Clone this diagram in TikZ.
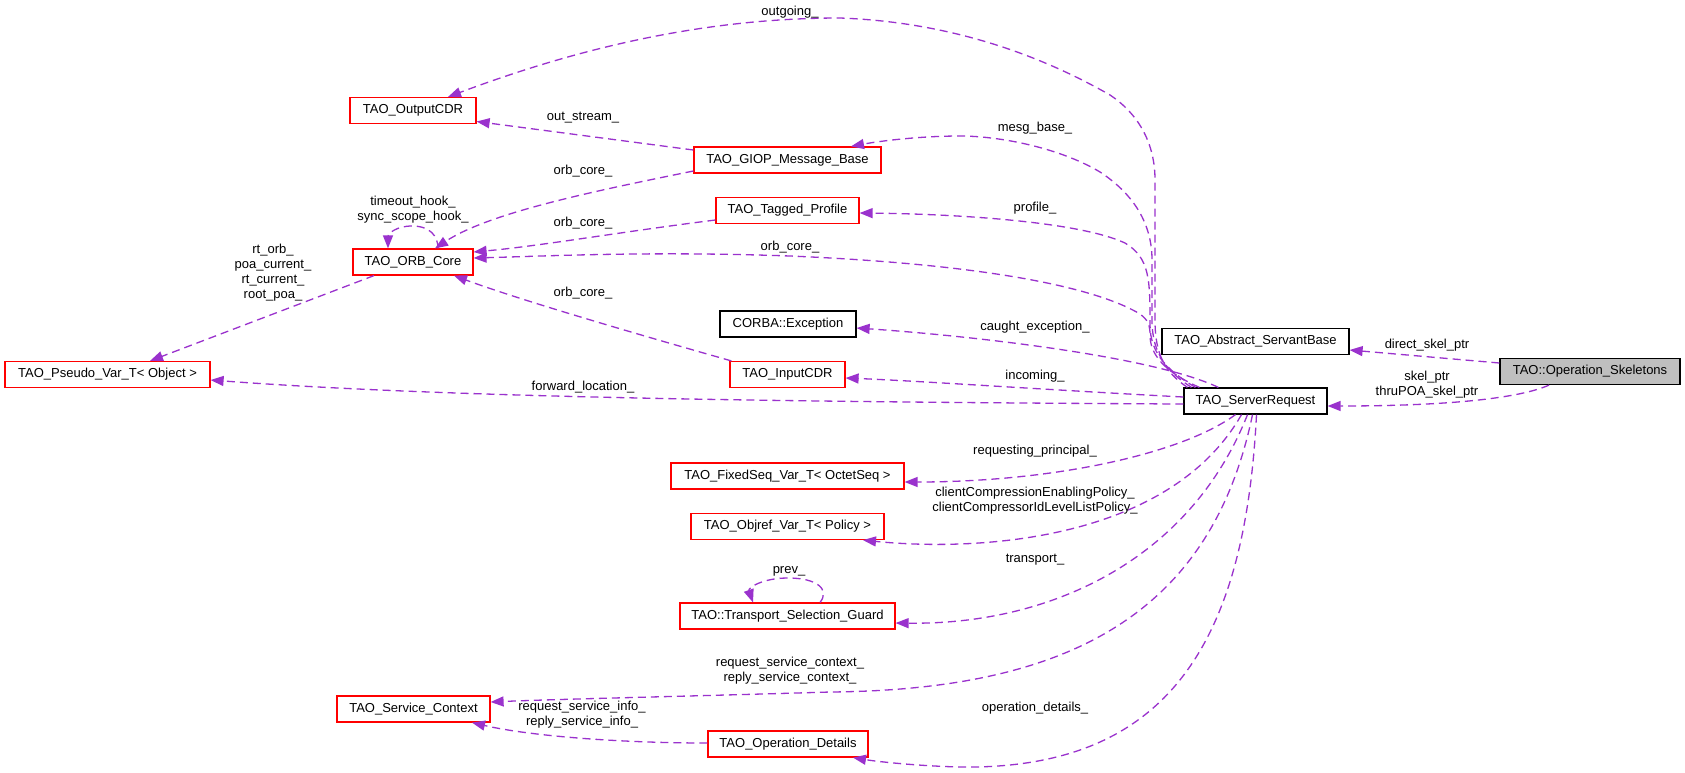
\documentclass[tikz,border=0pt]{standalone}
\usepackage{fontspec}
\setmainfont{Liberation Sans}
\usetikzlibrary{arrows.meta,calc}
\definecolor{edgec}{HTML}{9A32CD}
\definecolor{boxgray}{HTML}{BFBFBF}
\tikzset{
  cls/.style={draw=red, line width=1.2pt, rectangle, minimum height=26pt, inner sep=0pt, fill=white, font=\fontsize{13}{15}\selectfont},
  clsblack/.style={cls, draw=black},
  clsgray/.style={cls, draw=black, fill=boxgray},
  rel/.style={draw=edgec, line width=1.3pt, dash pattern=on 8pt off 5pt, -{Triangle[length=13pt,width=10pt,fill=edgec]}},
  lbl/.style={font=\fontsize{13}{15}\selectfont, align=center, inner sep=0pt}
}
\begin{document}
\begin{tikzpicture}[x=1pt,y=-1pt]
\useasboundingbox[fill=white] (0,0) rectangle (1685,772);
% nodes
\node[cls, minimum width=126pt] (out) at (413,110.5) {TAO\_OutputCDR};
\node[cls, minimum width=120pt] (orb) at (413,262) {TAO\_ORB\_Core};
\node[cls, minimum width=205pt] (ps) at (107.5,374.5) {TAO\_Pseudo\_Var\_T< Object >};
\node[cls, minimum width=187pt] (giop) at (787.5,160) {TAO\_GIOP\_Message\_Base};
\node[cls, minimum width=143pt] (tag) at (787.5,210.5) {TAO\_Tagged\_Profile};
\node[clsblack, minimum width=136pt] (exc) at (788,324) {CORBA::Exception};
\node[cls, minimum width=115pt] (in) at (787.5,374.5) {TAO\_InputCDR};
\node[clsblack, minimum width=187pt] (abs) at (1255.5,341.5) {TAO\_Abstract\_ServantBase};
\node[clsgray, minimum width=180pt] (sk) at (1590,371.5) {TAO::Operation\_Skeletons};
\node[clsblack, minimum width=143pt] (SR) at (1255.5,401) {TAO\_ServerRequest};
\node[cls, minimum width=233pt] (fs) at (787.5,476) {TAO\_FixedSeq\_Var\_T< OctetSeq >};
\node[cls, minimum width=193pt] (obj) at (787.5,526.5) {TAO\_Objref\_Var\_T< Policy >};
\node[cls, minimum width=215pt] (g) at (787.5,616) {TAO::Transport\_Selection\_Guard};
\node[cls, minimum width=153pt] (sc) at (413.5,709) {TAO\_Service\_Context};
\node[cls, minimum width=160pt] (od) at (788,744) {TAO\_Operation\_Details};
% edges
\draw[rel] ($(SR.north west)+(4,0)$) .. controls (1165,372) and (1155,355) .. (1155,320) -- (1155,180) .. controls (1155,145) and (1140,115) .. (1110,95) .. controls (1040,55) and (950,22) .. (840,18) .. controls (690,18) and (560,55) .. ($(out.north)+(35,0)$);
\draw[rel] ($(SR.north west)+(8,0)$) .. controls (1168,372) and (1152,355) .. (1152,320) -- (1152,260) .. controls (1152,225) and (1135,195) .. (1100,172) .. controls (1060,148) and (1000,136) .. (960,136) .. controls (920,136) and (880,141) .. ($(giop.north)+(63.5,0)$);
\draw[rel] ($(SR.north west)+(12,0)$) .. controls (1170,372) and (1150,355) .. (1150,325) .. controls (1150,280) and (1150,258) .. (1125,243) .. controls (1080,222) and (960,214) .. ($(tag.east)+(0,2.5)$);
\draw[rel] ($(SR.north west)+(16,0)$) .. controls (1165,372) and (1150,355) .. (1150,335) .. controls (1150,325) and (1148,320) .. (1140,314) .. controls (1100,290) and (1000,265) .. (790,256) .. controls (650,251) and (550,256) .. ($(orb.east)+(0,-4)$);
\draw[rel] ($(SR.north west)+(35,0)$) .. controls (1150,355) and (960,335) .. ($(exc.east)+(0,4)$);
\draw[rel] ($(SR.west)+(0,-4)$) .. controls (1050,390) and (920,381) .. ($(in.east)+(0,3.5)$);
\draw[rel] ($(SR.west)+(0,3)$) .. controls (800,402) and (450,398) .. ($(ps.east)+(0,5.5)$);
\draw[rel] ($(sk.west)+(0,-8.5)$) -- ($(abs.east)+(0,8.5)$);
\draw[rel] ($(sk.south)+(-41,0)$) .. controls (1520,398) and (1450,406) .. ($(SR.east)+(0,5)$);
\draw[rel] ($(orb.north)+(25,0)$) .. controls (438,236) and (430,226) .. (412,226) .. controls (396,226) and (388,234) .. ($(orb.north)+(-25,0)$);
\draw[rel] ($(orb.south)+(-39,0)$) -- ($(ps.north)+(42.5,0)$);
\draw[rel] ($(giop.west)+(0,-10)$) -- ($(out.east)+(0,11)$);
\draw[rel] ($(giop.west)+(0,11)$) .. controls (600,190) and (490,212) .. ($(orb.north)+(22,0)$);
\draw[rel] ($(tag.west)+(0,9.5)$) .. controls (620,232) and (540,246) .. ($(orb.east)+(0,-10)$);
\draw[rel] ($(in.north west)+(2,0)$) .. controls (640,335) and (520,300) .. ($(orb.south)+(41,0)$);
\draw[rel] ($(SR.south)+(-20,0)$) .. controls (1180,455) and (1050,482) .. ($(fs.east)+(0,6)$);
\draw[rel] ($(SR.south)+(-14,0)$) .. controls (1170,540) and (980,552) .. ($(obj.south)+(75.5,0)$);
\draw[rel] ($(SR.south)+(-8,0)$) .. controls (1190,560) and (1050,625) .. ($(g.east)+(0,7)$);
\draw[rel] ($(SR.south)+(-3,0)$) .. controls (1210,620) and (1060,690) .. (830,692) .. controls (700,696) and (560,699) .. ($(sc.east)+(0,-7)$);
\draw[rel] ($(SR.south)+(1,0)$) .. controls (1245,640) and (1170,770) .. (960,767) .. controls (920,766) and (880,762) .. ($(od.south)+(65,0)$);
\draw[rel] ($(od.west)+(0,-1)$) .. controls (620,743) and (530,736) .. ($(sc.south)+(58.5,0)$);
\draw[rel] ($(g.north)+(32.5,0)$) .. controls (830,590) and (818,578) .. (788,578) .. controls (762,578) and (748,588) .. ($(g.north)+(-34.5,0)$);
% labels
\node[lbl] (l1) at (790,12) {outgoing\_};
\node[lbl] (l2) at (583,118) {out\_stream\_};
\node[lbl] (l3) at (1035,128) {mesg\_base\_};
\node[lbl] (l4) at (583,171) {orb\_core\_};
\node[lbl] (l5) at (413,209.5) {timeout\_hook\_\\sync\_scope\_hook\_};
\node[lbl] (l6) at (583,223) {orb\_core\_};
\node[lbl] (l7) at (1035,208) {profile\_};
\node[lbl] (l8) at (790,247) {orb\_core\_};
\node[lbl] (l9) at (273,273) {rt\_orb\_\\poa\_current\_\\rt\_current\_\\root\_poa\_};
\node[lbl] (l10) at (583,293) {orb\_core\_};
\node[lbl] (l11) at (1035,327) {caught\_exception\_};
\node[lbl] (l12) at (1427,345) {direct\_skel\_ptr};
\node[lbl] (l13) at (1035,376) {incoming\_};
\node[lbl] (l14) at (583,387) {forward\_location\_};
\node[lbl] (l15) at (1427,384.5) {skel\_ptr\\thruPOA\_skel\_ptr};
\node[lbl] (l16) at (1035,451) {requesting\_principal\_};
\node[lbl] (l17) at (1035,501) {clientCompressionEnablingPolicy\_\\clientCompressorIdLevelListPolicy\_};
\node[lbl] (l18) at (789,571) {prev\_};
\node[lbl] (l19) at (1035,560) {transport\_};
\node[lbl] (l20) at (790,670.5) {request\_service\_context\_\\reply\_service\_context\_};
\node[lbl] (l21) at (582,715) {request\_service\_info\_\\reply\_service\_info\_};
\node[lbl] (l22) at (1035,708) {operation\_details\_};
\end{tikzpicture}
\end{document}
